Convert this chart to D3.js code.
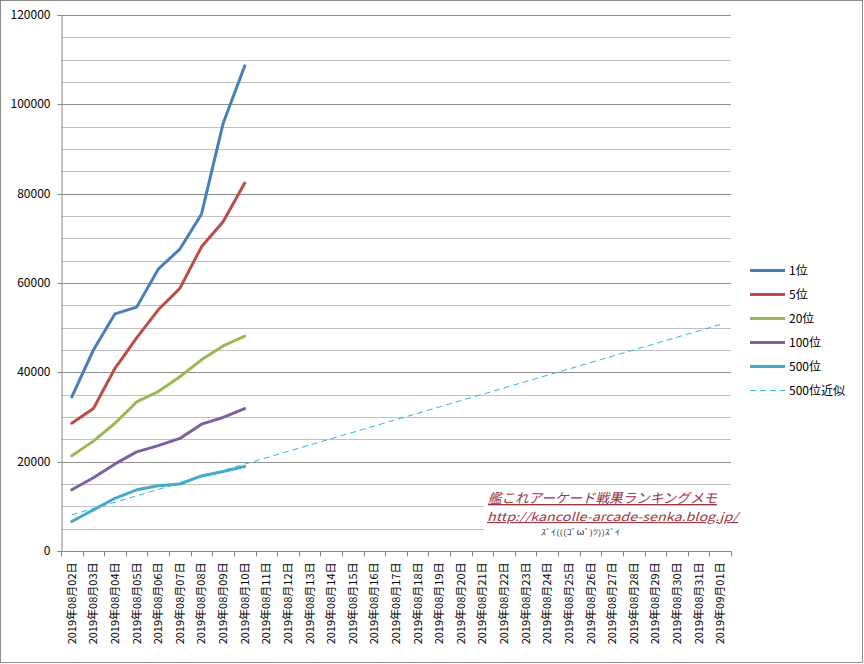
<!DOCTYPE html>
<html><head><meta charset="utf-8">
<script src="https://cdn.jsdelivr.net/npm/d3@7"></script>
<style>
html,body{margin:0;padding:0;background:#fff;}
svg{display:block;}
text{font-family:"Noto Sans CJK JP","Liberation Sans",sans-serif;}
</style>
</head><body>
<svg id="chart" width="864" height="664"></svg>
<script>
const categories = ["2019年08月02日","2019年08月03日","2019年08月04日","2019年08月05日","2019年08月06日","2019年08月07日","2019年08月08日","2019年08月09日","2019年08月10日","2019年08月11日","2019年08月12日","2019年08月13日","2019年08月14日","2019年08月15日","2019年08月16日","2019年08月17日","2019年08月18日","2019年08月19日","2019年08月20日","2019年08月21日","2019年08月22日","2019年08月23日","2019年08月24日","2019年08月25日","2019年08月26日","2019年08月27日","2019年08月28日","2019年08月29日","2019年08月30日","2019年08月31日","2019年09月01日"];
const rank1   = [34500, 45000, 53100, 54600, 63100, 67600, 75400, 95700, 108600];
const rank5   = [28600, 31900, 40900, 47700, 54000, 58800, 68100, 73700, 82400];
const rank20  = [21300, 24600, 28600, 33400, 35700, 39000, 42800, 45900, 48100];
const rank100 = [13700, 16400, 19500, 22200, 23600, 25200, 28400, 29900, 31900];
const rank500 = [6600, 9200, 11800, 13700, 14600, 15000, 16800, 17800, 18900];
const trend500 = [[0, 8100], [30, 50700]]; // [category index, value] endpoints of the trendline
const seriesNames = ["1位","5位","20位","100位","500位","500位近似"];
const colors = ["#4a7ebb","#be4b48","#98b954","#7d60a0","#46aac5","#2cb4e8"];
const yTicks = [0, 20000, 40000, 60000, 80000, 100000, 120000];

const svg = d3.select("#chart");
svg.append("rect").attr("x",0.5).attr("y",0.5).attr("width",862).attr("height",662)
  .attr("fill","#fff").attr("stroke","#8c8c8c");

const x = d3.scaleBand().domain(categories).range([61, 731]).padding(0);
const cx = i => x(categories[i]) + x.bandwidth()/2;
const y = d3.scaleLinear().domain([0, 120000]).range([551, 15]);

// gridlines
const minor = d3.range(5000, 120001, 5000);
svg.append("g").selectAll("line").data(minor).join("line")
  .attr("x1", 61).attr("x2", 731)
  .attr("y1", d => Math.round(y(d)) + 0.5).attr("y2", d => Math.round(y(d)) + 0.5)
  .attr("stroke", d => d % 20000 === 0 ? "#8e8e8e" : "#c0c0c0").attr("stroke-width", 1);

// y axis
const yAxis = d3.axisLeft(y).tickValues(yTicks).tickSize(4).tickPadding(7).tickFormat(d3.format("d"));
const gy = svg.append("g").attr("transform","translate(61.5,0)").call(yAxis);
gy.select(".domain").attr("stroke","#868686");
gy.selectAll(".tick line").attr("stroke","#868686");
gy.selectAll(".tick text").attr("font-size",12).attr("fill","#000")
  .attr("font-family",'"Noto Sans CJK JP",sans-serif');
gy.selectAll(".tick").attr("transform", d => `translate(0,${Math.round(y(d))+0.5})`);

// x axis
const gx = svg.append("g").attr("transform","translate(0,551.5)");
gx.append("line").attr("x1",61).attr("x2",731).attr("stroke","#868686");
gx.selectAll("line.t").data(d3.range(categories.length+1)).join("line").attr("class","t")
  .attr("x1", i => Math.round(61 + i*x.bandwidth())+0.5).attr("x2", i => Math.round(61 + i*x.bandwidth())+0.5)
  .attr("y1",0).attr("y2",5).attr("stroke","#868686");
gx.selectAll("text").data(categories).join("text")
  .attr("transform",(d,i)=>`translate(${cx(i)+4},11) rotate(-90)`)
  .attr("text-anchor","end").attr("font-size",11).attr("fill","#000")
  .text(d=>d);

// series
const allSeries = [rank1, rank5, rank20, rank100, rank500];
const line = d3.line().x((d,i)=>cx(i)).y(d=>y(d));
allSeries.forEach((s, k) => {
  svg.append("path").datum(s).attr("d", line).attr("fill","none")
    .attr("stroke", colors[k]).attr("stroke-width", 3)
    .attr("stroke-linejoin","round").attr("stroke-linecap","round");
});
// trendline
svg.append("path").datum(trend500)
  .attr("d", d3.line().x(d=>cx(d[0])).y(d=>y(d[1])))
  .attr("fill","none").attr("stroke",colors[5]).attr("stroke-width",1)
  .attr("stroke-dasharray","6,4");

// legend
const lg = svg.append("g");
seriesNames.forEach((n, k) => {
  const yy = 270.5 + k*24;
  lg.append("line").attr("x1",750).attr("x2",785).attr("y1",yy).attr("y2",yy)
    .attr("stroke",colors[k]).attr("stroke-width", k===5 ? 1 : 3)
    .attr("stroke-dasharray", k===5 ? "6,4" : null);
  lg.append("text").attr("x",789).attr("y",yy+4.5).attr("font-size",12).attr("fill","#000").text(n);
});

// watermark
const wm = svg.append("g");
wm.append("rect").attr("x",484).attr("y",487).attr("width",257).attr("height",52).attr("fill","#fff");
wm.append("text").attr("x",488).attr("y",503).attr("font-size",13.5).attr("font-style","italic")
  .attr("fill","#9b3540").attr("text-decoration","underline")
  .attr("textLength",229).attr("lengthAdjust","spacingAndGlyphs")
  .text("艦これアーケード戦果ランキングメモ");
wm.append("text").attr("x",487).attr("y",521).attr("font-size",11.5).attr("font-style","italic")
  .attr("font-family",'"Liberation Mono","DejaVu Sans Mono",monospace')
  .attr("fill","#9b3540").attr("text-decoration","underline")
  .attr("textLength",251).attr("lengthAdjust","spacingAndGlyphs")
  .text("http://kancolle-arcade-senka.blog.jp/");
wm.append("text").attr("x",541).attr("y",535).attr("font-size",8).attr("fill","#333")
  .attr("textLength",79).attr("lengthAdjust","spacingAndGlyphs")
  .text("ｽﾞｲ(((ｺﾞωﾞ)ﾂ))ｽﾞｲ");
</script>
</body></html>
